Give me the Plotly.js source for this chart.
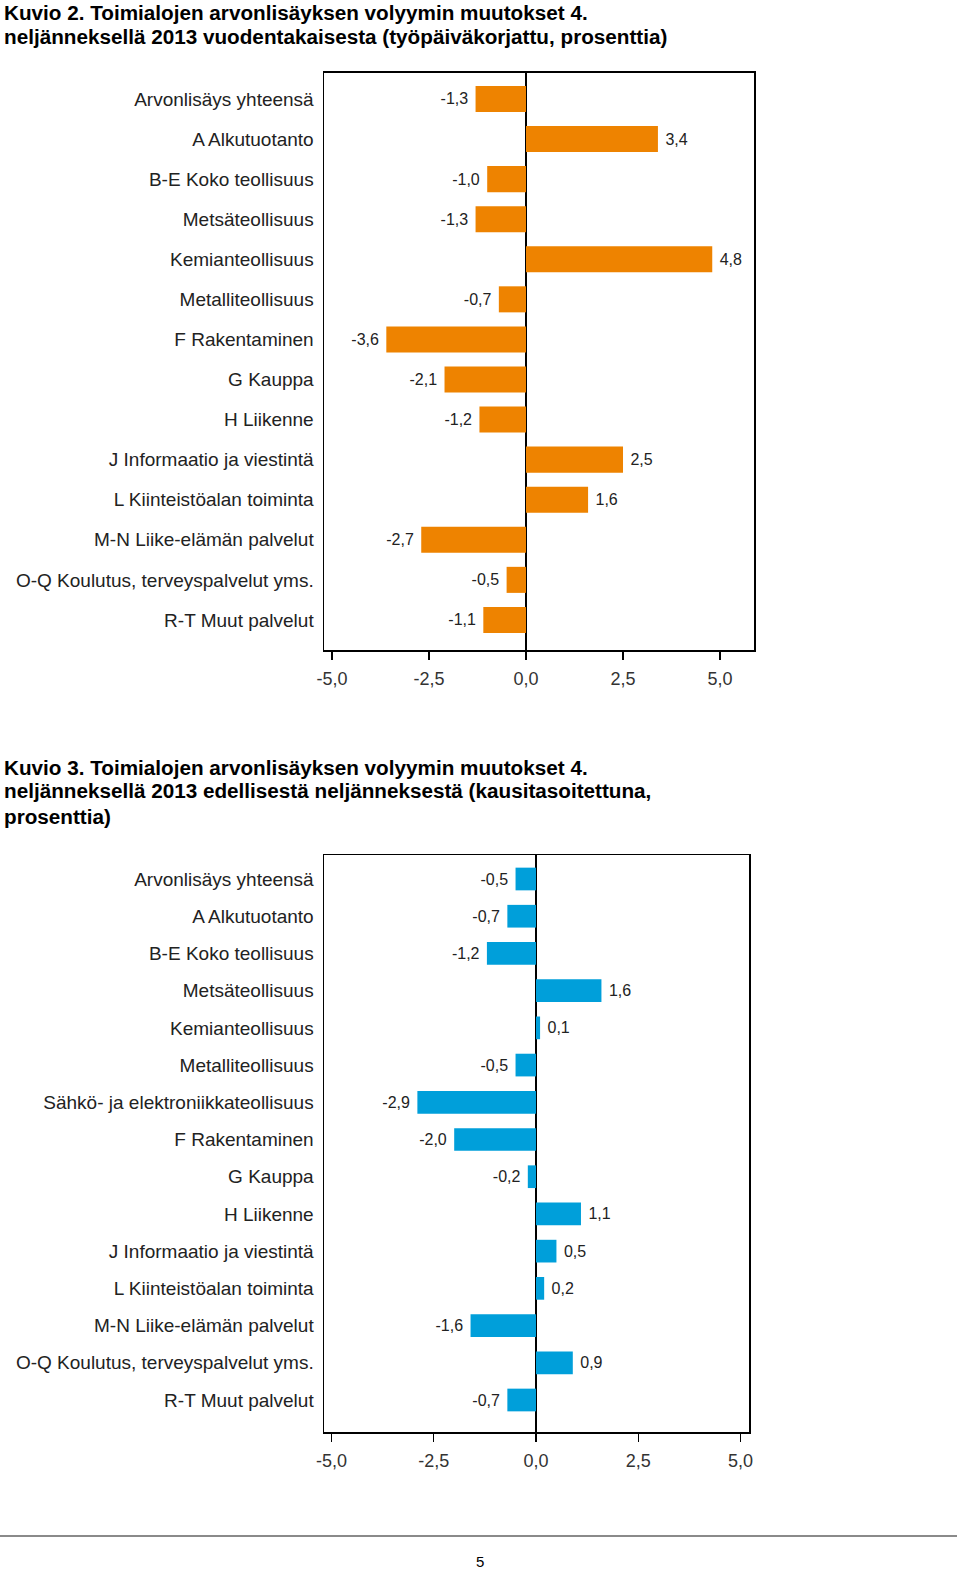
<!DOCTYPE html>
<html>
<head>
<meta charset="utf-8">
<script src="https://cdn.plot.ly/plotly-3.0.1.min.js"></script>
<style>
html,body{margin:0;padding:0;background:#fff;}
#chart{width:960px;height:1572px;}
</style>
</head>
<body>
<div id="chart"></div>
<script>
// ---- Data ----
const title1Lines = [
  "Kuvio 2. Toimialojen arvonlisäyksen volyymin muutokset 4.",
  "neljänneksellä 2013 vuodentakaisesta (työpäiväkorjattu, prosenttia)"
];
const categories1 = [
  "Arvonlisäys yhteensä",
  "A Alkutuotanto",
  "B-E Koko teollisuus",
  "Metsäteollisuus",
  "Kemianteollisuus",
  "Metalliteollisuus",
  "F Rakentaminen",
  "G Kauppa",
  "H Liikenne",
  "J Informaatio ja viestintä",
  "L Kiinteistöalan toiminta",
  "M-N Liike-elämän palvelut",
  "O-Q Koulutus, terveyspalvelut yms.",
  "R-T Muut palvelut"
];
const values1 = [-1.3, 3.4, -1.0, -1.3, 4.8, -0.7, -3.6, -2.1, -1.2, 2.5, 1.6, -2.7, -0.5, -1.1];

const title2Lines = [
  "Kuvio 3. Toimialojen arvonlisäyksen volyymin muutokset 4.",
  "neljänneksellä 2013 edellisestä neljänneksestä (kausitasoitettuna,",
  "prosenttia)"
];
const categories2 = [
  "Arvonlisäys yhteensä",
  "A Alkutuotanto",
  "B-E Koko teollisuus",
  "Metsäteollisuus",
  "Kemianteollisuus",
  "Metalliteollisuus",
  "Sähkö- ja elektroniikkateollisuus",
  "F Rakentaminen",
  "G Kauppa",
  "H Liikenne",
  "J Informaatio ja viestintä",
  "L Kiinteistöalan toiminta",
  "M-N Liike-elämän palvelut",
  "O-Q Koulutus, terveyspalvelut yms.",
  "R-T Muut palvelut"
];
const values2 = [-0.5, -0.7, -1.2, 1.6, 0.1, -0.5, -2.9, -2.0, -0.2, 1.1, 0.5, 0.2, -1.6, 0.9, -0.7];

const xTickVals = [-5, -2.5, 0, 2.5, 5];
const xTickText = ["-5,0", "-2,5", "0,0", "2,5", "5,0"];
const pageNumber = "5";

// ---- Styling ----
const FONT = "'Liberation Sans', Arial, sans-serif";
const W = 960, H = 1572;
const px = v => v / W;
const py = v => 1 - v / H;

function fmt(v) { return v.toFixed(1).replace(".", ","); }
function labels(vals) {
  return vals.map(v => v < 0 ? fmt(v) + "\u00a0" : "\u00a0" + fmt(v));
}

const traces = [
  {
    type: "bar", orientation: "h",
    x: values1, y: categories1,
    xaxis: "x", yaxis: "y",
    marker: {color: "#EE8300", line: {width: 0}},
    width: 0.65,
    text: labels(values1),
    texttemplate: "%{text}",
    textposition: "outside",
    constraintext: "none",
    cliponaxis: false,
    textfont: {family: FONT, size: 16, color: "#222"},
    hoverinfo: "skip"
  },
  {
    type: "bar", orientation: "h",
    x: values2, y: categories2,
    xaxis: "x2", yaxis: "y2",
    marker: {color: "#009FDA", line: {width: 0}},
    width: 0.61,
    text: labels(values2),
    texttemplate: "%{text}",
    textposition: "outside",
    constraintext: "none",
    cliponaxis: false,
    textfont: {family: FONT, size: 16, color: "#222"},
    hoverinfo: "skip"
  }
];

function xAxis(domain, range, anchor) {
  return {
    domain: domain, range: range, anchor: anchor,
    tickmode: "array", tickvals: xTickVals, ticktext: xTickText,
    ticks: "outside", ticklen: 8, tickwidth: 1.3, tickcolor: "#000",
    showline: true, mirror: true, linecolor: "#000", linewidth: 1.5,
    showgrid: false,
    zeroline: true, zerolinecolor: "#000", zerolinewidth: 1.5,
    tickfont: {family: FONT, size: 18, color: "#333"},
    ticklabelstandoff: 4,
    fixedrange: true
  };
}
function yAxis(domain, range, anchor, cats) {
  return {
    domain: domain, range: range, anchor: anchor,
    type: "category", categoryorder: "array", categoryarray: cats,
    ticks: "", showgrid: false, zeroline: false,
    showline: true, mirror: true, linecolor: "#000", linewidth: 1.5,
    tickfont: {family: FONT, size: 19, color: "#222"},
    ticklabelstandoff: 5,
    fixedrange: true
  };
}

const annotations = [];
const t1y = [12, 36];
title1Lines.forEach((t, i) => annotations.push({
  text: "<b>" + t + "</b>", xref: "paper", yref: "paper",
  x: px(2), y: py(t1y[i]), xanchor: "left", yanchor: "middle",
  showarrow: false, font: {family: FONT, size: 20.7, color: "#000"}
}));
const t2y = [767, 791, 816];
title2Lines.forEach((t, i) => annotations.push({
  text: "<b>" + t + "</b>", xref: "paper", yref: "paper",
  x: px(2), y: py(t2y[i]), xanchor: "left", yanchor: "middle",
  showarrow: false, font: {family: FONT, size: 20.7, color: "#000"}
}));
annotations.push({
  text: pageNumber, xref: "paper", yref: "paper",
  x: px(480), y: py(1561), xanchor: "center", yanchor: "middle",
  showarrow: false, font: {family: FONT, size: 15, color: "#000"}
});

const layout = {
  width: W, height: H,
  margin: {l: 0, r: 0, t: 0, b: 0, pad: 0},
  paper_bgcolor: "#fff", plot_bgcolor: "#fff",
  separators: ", ",
  showlegend: false,
  bargap: 0.35,
  xaxis: xAxis([px(324), px(754)], [-5.206, 5.876], "y"),
  yaxis: yAxis([py(650), py(72.7)], [13.75, -0.655], "x", categories1),
  xaxis2: xAxis([px(324), px(749)], [-5.183, 5.208], "y2"),
  yaxis2: yAxis([py(1432), py(855)], [14.86, -0.645], "x2", categories2),
  annotations: annotations,
  shapes: [{
    type: "line", xref: "paper", yref: "paper",
    x0: 0, x1: px(957), y0: py(1536), y1: py(1536),
    line: {color: "#8a8a8a", width: 2}
  }]
};

Plotly.newPlot("chart", traces, layout, {displayModeBar: false, staticPlot: true});
</script>
</body>
</html>
